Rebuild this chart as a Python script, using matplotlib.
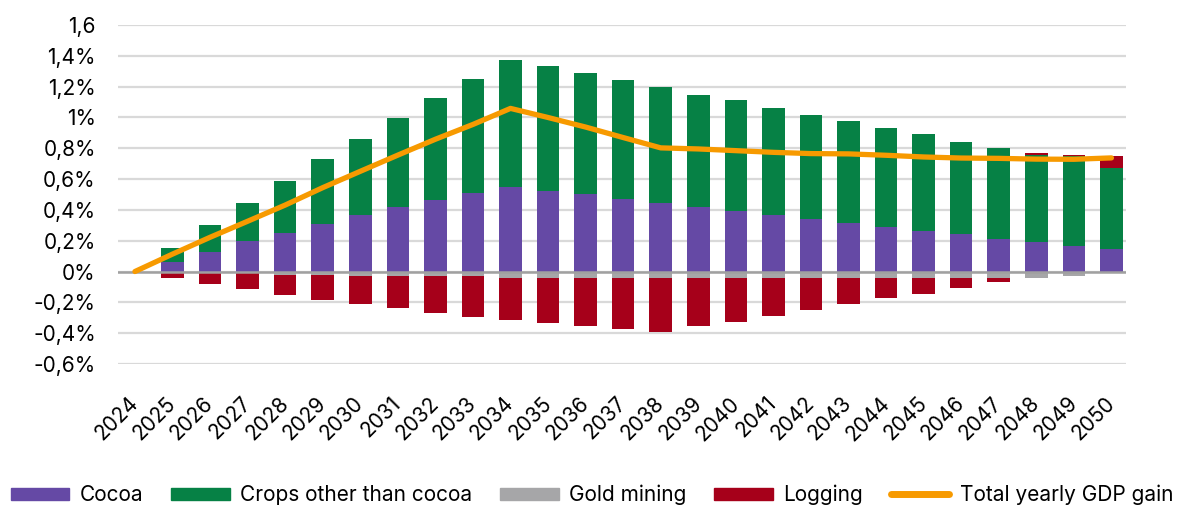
import matplotlib.pyplot as plt
import matplotlib.transforms as mtransforms
import numpy as np
from matplotlib.patches import Patch
from matplotlib.lines import Line2D

plt.rcParams['font.family'] = ['Inter', 'DejaVu Sans']

years = list(range(2024, 2051))

# GDP gain contributions by sector, % of GDP
cocoa = [0.0, 0.063, 0.129, 0.196, 0.253, 0.309, 0.368, 0.416, 0.461, 0.510,
         0.547, 0.521, 0.501, 0.473, 0.442, 0.416, 0.390, 0.368, 0.338, 0.312,
         0.290, 0.263, 0.244, 0.214, 0.194, 0.168, 0.146]
crops = [0.0, 0.089, 0.171, 0.246, 0.333, 0.418, 0.493, 0.577, 0.665, 0.740,
         0.827, 0.814, 0.789, 0.769, 0.752, 0.732, 0.721, 0.693, 0.675, 0.662,
         0.638, 0.626, 0.599, 0.590, 0.562, 0.579, 0.525]
gold = [0.0, 0.0, 0.0, 0.0, -0.020, -0.022, -0.030, -0.030, -0.030, -0.030,
        -0.040, -0.040, -0.040, -0.040, -0.040, -0.040, -0.040, -0.040, -0.040, -0.040,
        -0.040, -0.040, -0.040, -0.040, -0.040, -0.030, -0.010]
logging = [0.0, -0.039, -0.078, -0.116, -0.135, -0.161, -0.181, -0.208, -0.238, -0.266,
           -0.276, -0.296, -0.313, -0.333, -0.352, -0.313, -0.287, -0.248, -0.208, -0.171,
           -0.134, -0.106, -0.067, -0.030, 0.013, 0.011, 0.076]
total = [0.0, 0.113, 0.222, 0.326, 0.431, 0.544, 0.650, 0.755, 0.858, 0.954,
         1.058, 0.999, 0.937, 0.869, 0.802, 0.795, 0.784, 0.773, 0.765, 0.763,
         0.754, 0.743, 0.736, 0.734, 0.729, 0.728, 0.737]

c_cocoa = '#6549A5'
c_crops = '#068145'
c_gold = '#A6A6A8'
c_log = '#A6001A'
c_total = '#F79A00'

fig = plt.figure(figsize=(11.84, 5.07), dpi=100)
ax = fig.add_axes([0.0997, 0.282, 0.8517, 0.669])

x = np.arange(len(years))
w = 0.6
cocoa = np.array(cocoa)
crops = np.array(crops)
gold = np.array(gold)
logging = np.array(logging)

ax.bar(x, cocoa, w, color=c_cocoa, zorder=2)
ax.bar(x, crops, w, bottom=cocoa, color=c_crops, zorder=2)
ax.bar(x, gold, w, color=c_gold, zorder=2)
# logging sits below gold mining when negative, on top of crops when positive
log_bottom = np.where(logging < 0, gold, cocoa + crops)
ax.bar(x, logging, w, bottom=log_bottom, color=c_log, zorder=2)

ax.plot(x, total, color=c_total, lw=3.8, solid_capstyle='round',
        solid_joinstyle='round', zorder=3)

ax.axhline(0, color='#A0A0A0', lw=1.8, zorder=2.5)

ax.set_ylim(-0.6, 1.6)
ax.set_xlim(-0.45, 26.4)
yt = np.arange(-0.6, 1.61, 0.2)
ax.set_yticks(yt)
ylabels = []
for v in yt:
    s = f'{v:.1f}'.replace('.', ',')
    if s.endswith(',0'):
        s = s[:-2]
    if s == '-0':
        s = '0'
    ylabels.append(s + '%')
ylabels[-1] = '1,6'
ax.set_yticklabels(ylabels, fontsize=15)
ax.grid(axis='y', color='#D9D9D9', lw=1.6, zorder=0)
ax.set_axisbelow(True)

ax.set_xticks(x)
ax.set_xticklabels([str(y) for y in years], rotation=45, ha='right',
                   va='center', rotation_mode='anchor', fontsize=15)
offset = mtransforms.ScaledTranslation(7 / 100, 0, fig.dpi_scale_trans)
for lab in ax.get_xticklabels():
    lab.set_transform(lab.get_transform() + offset)

ax.tick_params(axis='x', length=0, pad=26)
ax.tick_params(axis='y', length=0, pad=16)
for sp in ax.spines.values():
    sp.set_visible(False)

handles = [
    Patch(color=c_cocoa, label='Cocoa'),
    Patch(color=c_crops, label='Crops other than cocoa'),
    Patch(color=c_gold, label='Gold mining'),
    Patch(color=c_log, label='Logging'),
    Line2D([0], [0], color=c_total, lw=5, solid_capstyle='round',
           label='Total yearly GDP gain'),
]
fig.legend(handles=handles, loc='center', bbox_to_anchor=(0.5, 0.024), ncol=5,
           frameon=False, fontsize=15, handlelength=2.8, handleheight=0.5,
           handletextpad=0.5, columnspacing=1.35, borderpad=0.1)

fig.savefig('out.png', dpi=100)
